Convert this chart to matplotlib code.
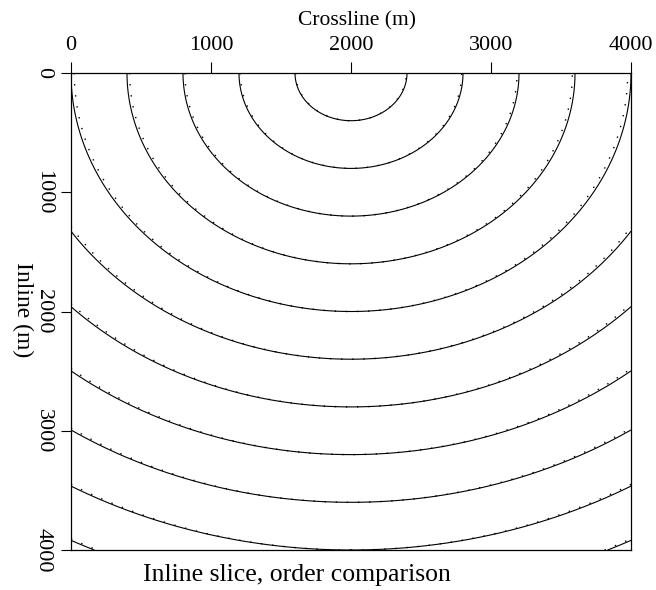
import numpy as np
import matplotlib.pyplot as plt

# source position and contour levels (m)
src_x = 2000.0
src_z = 0.0
levels = [400, 800, 1200, 1600, 2000, 2400, 2800, 3200, 3600, 4000, 4400]
# relative error of the lower-order approximation at 90 degrees
order_err = 0.012

xticks = [0, 1000, 2000, 3000, 4000]
yticks = [0, 1000, 2000, 3000, 4000]

plt.rcParams['font.family'] = ['Liberation Serif', 'DejaVu Serif']

x = np.linspace(0, 4000, 801)
z = np.linspace(0, 4000, 801)
X, Z = np.meshgrid(x, z)
R = np.hypot(X - src_x, Z - src_z)
sin2 = ((X - src_x) / np.maximum(R, 1e-9)) ** 2
R2 = R * (1 + order_err * sin2)

fig = plt.figure(figsize=(6.56, 5.90), dpi=100)
ax = fig.add_axes([71 / 656, 40 / 590, 560 / 656, 477 / 590])

ax.contour(X, Z, R, levels=levels, colors='black', linewidths=0.8)
ax.contour(X, Z, R2, levels=levels, colors='black', linewidths=1.0,
           linestyles=[(0, (1, 7))])

ax.set_xlim(0, 4000)
ax.set_ylim(4000, 0)
ax.xaxis.tick_top()
ax.xaxis.set_label_position('top')
ax.set_xticks(xticks)
ax.set_yticks(yticks)
ax.set_yticklabels([str(v) for v in yticks], rotation=-90, va='center')
ax.tick_params(axis='x', direction='out', length=8, width=0.8, labelsize=16, pad=5)
ax.tick_params(axis='y', direction='out', length=7, width=0.8, labelsize=16, pad=6)

ax.set_xlabel('Crossline (m)', fontsize=15.5)
ax.xaxis.label.set_va('center')
ax.xaxis.set_label_coords(0.51, 1 + (73 - 21) / 477)
ax.set_ylabel('Inline (m)', fontsize=17, rotation=-90)
ax.yaxis.label.set_va('center')
ax.yaxis.label.set_ha('center')
ax.yaxis.set_label_coords((23 - 71) / 560, (550 - 310) / 477)
for s in ax.spines.values():
    s.set_linewidth(0.9)

fig.text(297 / 656, 1 - 575 / 590, 'Inline slice, order comparison',
         ha='center', va='center', fontsize=18.5)

fig.savefig('out.png', dpi=100)
